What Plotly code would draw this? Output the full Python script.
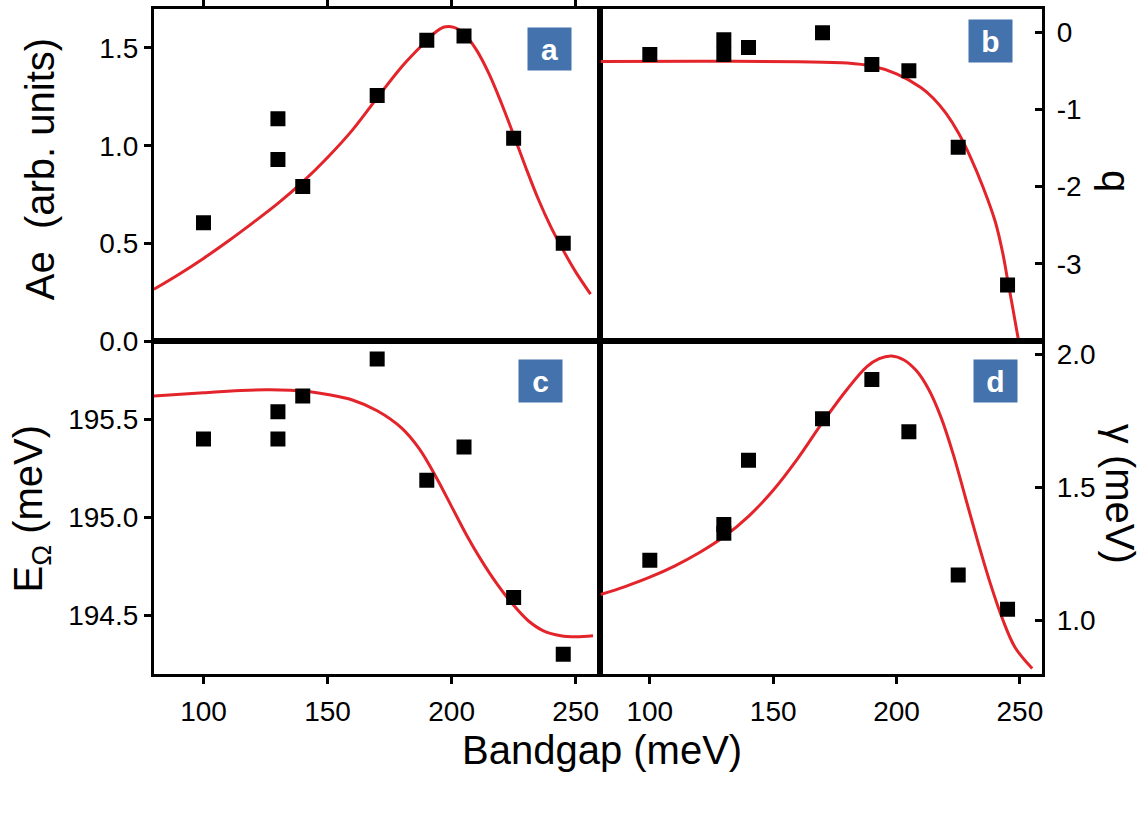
import plotly.graph_objects as go

# ---------------- data ----------------
bandgap = [100, 130, 130, 140, 170, 190, 205, 225, 245]

ae_vals = [0.606, 1.138, 0.930, 0.792, 1.257, 1.540, 1.561, 1.038, 0.502]
q_vals = [-0.29, -0.10, -0.29, -0.20, -0.01, -0.42, -0.50, -1.49, -3.27]
eo_vals = [195.40, 195.54, 195.40, 195.62, 195.81, 195.19, 195.36, 194.59, 194.30]
gamma_vals = [1.227, 1.361, 1.328, 1.603, 1.759, 1.906, 1.710, 1.171, 1.043]

# fitted curves
fit_a_x = [80, 90, 100, 110, 120, 130, 140, 150, 160, 170, 180, 187, 192, 197, 201, 205, 210, 215, 220,
           225, 230, 235, 240, 245, 250, 256]
fit_a_y = [0.266, 0.342, 0.424, 0.513, 0.607, 0.705, 0.815, 0.940, 1.080, 1.245, 1.405, 1.500, 1.565,
           1.607, 1.605, 1.575, 1.490, 1.370, 1.220, 1.055, 0.885, 0.725, 0.585, 0.465, 0.355, 0.241]

fit_b_x = [80, 120, 160, 180, 190, 200, 210, 215, 220, 225, 230, 235, 240, 243, 245, 247, 249.5]
fit_b_y = [-0.38, -0.378, -0.385, -0.40, -0.44, -0.54, -0.72, -0.86, -1.05, -1.30, -1.62, -2.00, -2.45,
           -2.85, -3.20, -3.55, -4.00]

fit_c_x = [80, 100, 115, 125, 135, 143, 150, 160, 170, 180, 187, 194, 200, 206, 212, 218, 225, 231,
           237, 244, 250, 257]
fit_c_y = [195.620, 195.637, 195.648, 195.652, 195.650, 195.642, 195.628, 195.600, 195.545, 195.455,
           195.350, 195.200, 195.055, 194.910, 194.780, 194.665, 194.550, 194.470, 194.420, 194.395,
           194.390, 194.395]

fit_d_x = [80, 90, 100, 110, 120, 130, 140, 150, 160, 170, 180, 188, 193, 198, 203, 208, 213, 218,
           223, 228, 233, 238, 243, 248, 255]
fit_d_y = [1.098, 1.128, 1.163, 1.205, 1.255, 1.315, 1.392, 1.490, 1.610, 1.745, 1.870, 1.955, 1.985,
           1.995, 1.980, 1.940, 1.870, 1.765, 1.625, 1.460, 1.295, 1.140, 1.005, 0.900, 0.820]

x_ticks = [100, 150, 200, 250]
ae_ticks = [0, 0.5, 1.0, 1.5]
q_ticks = [-3, -2, -1, 0]
q_ticktext = ["-3", "-2", "-1", "0"]
eo_ticks = [194.5, 195.0, 195.5]
gamma_ticks = [1.0, 1.5, 2.0]
panel_labels = ["a", "b", "c", "d"]

# ---------------- styling ----------------
W, H = 1148, 813
RED = "#E3242B"
BOX = "#4472AC"
FONT = "Liberation Sans, Arial, sans-serif"
TICKFONT = dict(family=FONT, size=28, color="black")
TITLEFONT = dict(family=FONT, size=40, color="black")


def px(x):
    return x / W


def py(y):
    return 1 - y / H


left_dom = [px(154), px(601)]
right_dom = [px(601), px(1043)]
top_dom = [py(347), py(7)]
bot_dom = [py(687), py(347)]

fig = go.Figure()

series = [
    ("x", "y", ae_vals, fit_a_x, fit_a_y),
    ("x2", "y2", q_vals, fit_b_x, fit_b_y),
    ("x3", "y3", eo_vals, fit_c_x, fit_c_y),
    ("x4", "y4", gamma_vals, fit_d_x, fit_d_y),
]
for xa, ya, pts, fx, fy in series:
    fig.add_trace(go.Scatter(x=fx, y=fy, xaxis=xa, yaxis=ya, mode="lines",
                             line=dict(color=RED, width=3, shape="spline", smoothing=1.0),
                             showlegend=False, hoverinfo="skip"))
    fig.add_trace(go.Scatter(x=bandgap, y=pts, xaxis=xa, yaxis=ya, mode="markers",
                             marker=dict(symbol="square", size=15, color="black"),
                             showlegend=False))

axis_common = dict(showline=True, linecolor="black", linewidth=3, mirror=True,
                   showgrid=False, zeroline=False, tickfont=TICKFONT,
                   tickcolor="black", tickwidth=3, ticklen=7)

fig.update_layout(
    width=W, height=H,
    margin=dict(l=0, r=0, t=0, b=0),
    paper_bgcolor="white", plot_bgcolor="white",
    font=dict(family=FONT, color="black"),
    xaxis=dict(domain=left_dom, anchor="y", range=[80, 260], side="top", ticks="outside",
               tickvals=x_ticks, showticklabels=False, **axis_common),
    yaxis=dict(domain=top_dom, anchor="x", range=[0, 1.7], ticks="outside",
               tickvals=ae_ticks, tickformat=".1f", **axis_common),
    xaxis2=dict(domain=right_dom, anchor="y2", range=[80, 259], side="top", ticks="",
                tickvals=x_ticks, showticklabels=False, **axis_common),
    yaxis2=dict(domain=top_dom, anchor="x2", side="right", range=[-4, 0.3], ticks="inside",
                tickvals=q_ticks, ticktext=q_ticktext, ticklabelstandoff=6, **axis_common),
    xaxis3=dict(domain=left_dom, anchor="y3", range=[80, 260], ticks="outside",
                tickvals=x_ticks, ticklabelstandoff=4, **axis_common),
    yaxis3=dict(domain=bot_dom, anchor="x3", range=[194.2, 195.9], ticks="outside",
                tickvals=eo_ticks, tickformat=".1f", **axis_common),
    xaxis4=dict(domain=right_dom, anchor="y4", range=[80, 259], ticks="outside",
                tickvals=x_ticks, ticklabelstandoff=4, **axis_common),
    yaxis4=dict(domain=bot_dom, anchor="x4", side="right", range=[0.8, 2.05], ticks="inside",
                tickvals=gamma_ticks, tickformat=".1f", ticklabelstandoff=6, **axis_common),
)

annotations = []
# axis titles
annotations.append(dict(text="Ae  (arb. units)", x=px(40), y=py(171), textangle=-90))
annotations.append(dict(text="E<sub>Ω</sub> (meV)", x=px(31), y=py(518), textangle=-90))
annotations.append(dict(text="q", x=px(1117), y=py(183), textangle=90))
annotations.append(dict(text="γ (meV)", x=px(1121), y=py(503), textangle=90))
annotations.append(dict(text="Bandgap (meV)", x=px(603), y=py(765), textangle=0))
for a in annotations:
    a.update(xref="paper", yref="paper", xanchor="center", yanchor="middle",
             showarrow=False, font=TITLEFONT)

# panel label boxes
box_centers = [(550, 48), (991, 40), (541, 388), (996, 388)]
for lab, (cx, cy) in zip(panel_labels, box_centers):
    annotations.append(dict(text="<b>%s</b>" % lab, x=px(cx), y=py(cy), xref="paper", yref="paper",
                            xanchor="center", yanchor="middle", showarrow=False,
                            bgcolor=BOX, width=41, height=40, borderpad=1,
                            font=dict(family=FONT, size=30, color="white")))

fig.update_layout(annotations=annotations)

fig.write_html("out.html")
